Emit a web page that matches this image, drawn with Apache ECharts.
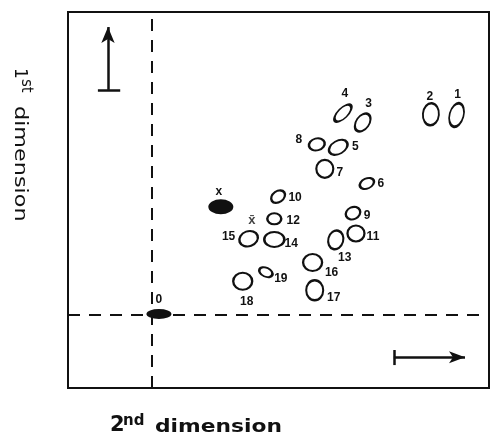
<!DOCTYPE html>
<html>
<head>
<meta charset="utf-8">
<script src="https://cdn.jsdelivr.net/npm/echarts@6/dist/echarts.min.js"></script>
<style>
  html, body { margin: 0; padding: 0; background: #fff; }
  #chart { width: 493px; height: 440px; }
</style>
</head>
<body>
<div id="chart"></div>
<script>
// spot positions (x: 2nd dimension, y: 1st dimension, 0-100)
var spotNames = ['1', '2', '3', '4', '5', '6', '7', '8', '9', '10',
                 '11', '12', '13', '14', '15', '16', '17', '18', '19'];
var spotX = [92.3, 86.2, 70.0, 65.3, 64.2, 71.0, 61.0, 59.1, 67.7, 49.9,
             68.4, 49.0, 63.6, 49.0, 42.9, 58.1, 58.6, 41.5, 47.0];
var spotY = [72.6, 72.8, 70.6, 73.1, 64.0, 54.4, 58.3, 64.8, 46.5, 50.9,
             41.1, 45.0, 39.4, 39.5, 39.7, 33.4, 26.0, 28.4, 30.8];

// filled (marker) spots
var filledNames = ['x', '0'];
var filledX = [36.3, 21.6];
var filledY = [48.2, 19.7];

// extra mark above spot 15
var noteNames = ['x\u0304'];
var noteX = [43.7];
var noteY = [44.7];

// dashed origin lines
var guideX = 20;
var guideY = 19.5;

// spot outline shape: [width, height, rotation] and label offset [dx, dy]
var spotShape = [
  [14, 24, -15], [16, 22, -5], [13, 20, -35], [10, 22, -45], [20, 13, 30],
  [15, 10, 25], [17, 18, 0], [16, 12, 15], [15, 12, 25], [15, 11, 35],
  [17, 16, 0], [14, 11, 0], [15, 19, -15], [20, 15, 0], [19, 15, 20],
  [19, 17, 0], [17, 20, 0], [19, 17, 0], [14, 9, -25]
];
var labelOffset = [
  [1, -20], [-1, -18], [6, -19], [2, -19], [17, -1], [14, 0], [15, 4], [-18, -5],
  [14, 3], [17, 1], [17, 3], [19, 2], [9, 18], [17, 4], [-20, -2], [19, 10],
  [19, 7], [4, 20], [15, 6]
];
var filledShape = [[25, 15, 0], [25, 10, 0]];
var filledOffset = [[-2, -15], [0, -14]];

var ink = '#111';
var labelFont = { color: ink, fontFamily: 'Liberation Sans', fontWeight: 'bold', fontSize: 12 };

var chart = echarts.init(document.getElementById('chart'));

var spotData = spotNames.map(function (n, i) {
  return {
    name: n,
    value: [spotX[i], spotY[i]],
    symbolSize: [spotShape[i][0], spotShape[i][1]],
    symbolRotate: spotShape[i][2],
    label: { offset: labelOffset[i] }
  };
});

var filledData = filledNames.map(function (n, i) {
  return {
    name: n,
    value: [filledX[i], filledY[i]],
    symbolSize: [filledShape[i][0], filledShape[i][1]],
    symbolRotate: filledShape[i][2],
    label: { offset: filledOffset[i] }
  };
});

var noteData = noteNames.map(function (n, i) {
  return { name: n, value: [noteX[i], noteY[i]] };
});

// "2nd dimension" / "1st dimension" with superscripts
var axisTitle = function (big, sup, bigSize, gapSup, gapWord, weight, stretch) {
  var f = weight + ' ';
  return [
    { type: 'text', x: 0, y: 0, style: { text: big, font: f + bigSize + 'px "DejaVu Sans"', fill: ink, verticalAlign: 'bottom' } },
    { type: 'text', x: gapSup, y: -7, style: { text: sup, font: f + '15px "DejaVu Sans"', fill: ink, verticalAlign: 'bottom' } },
    { type: 'text', x: gapWord, y: 0, scaleX: stretch, style: { text: 'dimension', font: f + '18px "DejaVu Sans"', fill: ink, verticalAlign: 'bottom' } }
  ];
};

chart.setOption({
  animation: false,
  grid: {
    left: 68, right: 4, top: 12, bottom: 52,
    show: true, borderColor: ink, borderWidth: 2
  },
  xAxis: { type: 'value', min: 0, max: 100, show: false },
  yAxis: { type: 'value', min: 0, max: 100, show: false },
  graphic: [
    { type: 'group', x: 110, y: 436, children: axisTitle('2', 'nd', 21, 13, 45, 'bold', 1.21) },
    { type: 'group', x: 11, y: 68, rotation: -Math.PI / 2, children: axisTitle('1', 'st', 17, 11, 38, 'normal', 1.24) }
  ],
  series: [
    {
      // dashed origin lines
      type: 'scatter',
      data: [],
      markLine: {
        silent: true,
        symbol: 'none',
        label: { show: false },
        lineStyle: { color: ink, width: 2, type: [12, 9] },
        data: [
          { xAxis: guideX },
          { yAxis: guideY }
        ]
      }
    },
    {
      // direction arrows
      type: 'scatter',
      data: [],
      markLine: {
        silent: true,
        symbol: 'none',
        label: { show: false },
        lineStyle: { color: ink, width: 2.5, type: 'solid' },
        data: [
          [{ coord: [9.5, 79.3] }, { coord: [9.5, 96], symbol: 'arrow', symbolSize: [10, 16] }],
          [{ coord: [7.1, 79.3] }, { coord: [12.4, 79.3] }],
          [{ coord: [77.4, 8.2] }, { coord: [94.3, 8.2], symbol: 'arrow', symbolSize: [9, 16] }],
          [{ coord: [77.4, 6.1] }, { coord: [77.4, 10.1] }]
        ]
      }
    },
    {
      name: 'spots',
      type: 'scatter',
      symbol: 'circle',
      itemStyle: { color: 'rgba(0,0,0,0)', borderColor: ink, borderWidth: 2.2, opacity: 1 },
      label: Object.assign({ show: true, position: 'inside', formatter: '{b}' }, labelFont),
      data: spotData
    },
    {
      name: 'filled',
      type: 'scatter',
      symbol: 'circle',
      itemStyle: { color: ink, opacity: 1 },
      label: Object.assign({ show: true, position: 'inside', formatter: '{b}' }, labelFont),
      data: filledData
    },
    {
      name: 'notes',
      type: 'scatter',
      symbolSize: 0,
      label: Object.assign({ show: true, position: 'inside', formatter: '{b}' }, labelFont, { fontSize: 13 }),
      data: noteData
    }
  ]
});
</script>
</body>
</html>
